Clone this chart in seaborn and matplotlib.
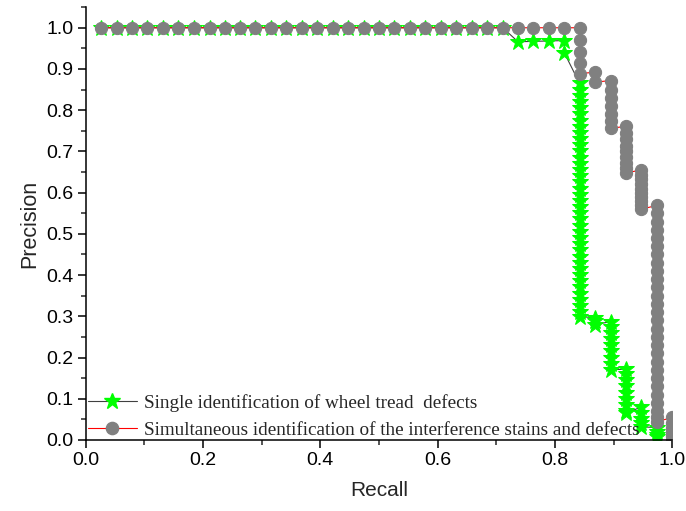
import numpy as np
import pandas as pd
import matplotlib
matplotlib.use('Agg')
import matplotlib.pyplot as plt
from matplotlib.lines import Line2D
import seaborn as sns

# Single identification of wheel tread defects (green stars)
single_recall = [0.026, 0.053, 0.079, 0.105, 0.132, 0.158, 0.184, 0.211, 0.237, 0.263,
                 0.289, 0.316, 0.342, 0.368, 0.395, 0.421, 0.447, 0.474, 0.500, 0.526,
                 0.553, 0.579, 0.605, 0.632, 0.658, 0.684, 0.711,
                 0.737, 0.763, 0.789, 0.816, 0.816] + [0.842] * 39 + [0.868] * 3 + \
                [0.895] * 9 + [0.921] * 9 + [0.947] * 5 + [0.974] * 4
single_prec = [1.0] * 27 + [0.966, 0.967, 0.968, 0.969, 0.939] + \
              [0.865, 0.85, 0.835, 0.82, 0.805, 0.79, 0.775, 0.76, 0.745, 0.73,
               0.715, 0.70, 0.685, 0.67, 0.655, 0.64, 0.625, 0.61, 0.595, 0.58,
               0.565, 0.55, 0.535, 0.52, 0.505, 0.49, 0.475, 0.46, 0.445, 0.43,
               0.415, 0.40, 0.385, 0.37, 0.355, 0.34, 0.325, 0.31, 0.299] + \
              [0.297, 0.288, 0.28] + \
              [0.287, 0.275, 0.26, 0.245, 0.23, 0.215, 0.20, 0.185, 0.17] + \
              [0.172, 0.16, 0.145, 0.13, 0.115, 0.10, 0.085, 0.07, 0.065] + \
              [0.08, 0.065, 0.05, 0.04, 0.032] + \
              [0.03, 0.02, 0.012, 0.008]

# Simultaneous identification of stains and defects (gray circles)
simul_recall = [0.026, 0.053, 0.079, 0.105, 0.132, 0.158, 0.184, 0.211, 0.237, 0.263,
                0.289, 0.316, 0.342, 0.368, 0.395, 0.421, 0.447, 0.474, 0.500, 0.526,
                0.553, 0.579, 0.605, 0.632, 0.658, 0.684, 0.711, 0.737, 0.763, 0.789,
                0.816] + [0.842] * 5 + [0.868] * 2 + [0.895] * 7 + [0.921] * 9 + \
               [0.947] * 10 + [0.974] * 28 + [1.0] * 6
simul_prec = [1.0] * 31 + [1.0, 0.970, 0.941, 0.914, 0.889] + [0.892, 0.868] + \
             [0.872, 0.85, 0.829, 0.81, 0.791, 0.773, 0.756] + \
             [0.761, 0.745, 0.729, 0.714, 0.70, 0.686, 0.673, 0.66, 0.648] + \
             [0.655, 0.643, 0.632, 0.621, 0.61, 0.60, 0.59, 0.58, 0.57, 0.56] + \
             [0.569, 0.55, 0.53, 0.51, 0.49, 0.47, 0.45, 0.43, 0.41, 0.39,
              0.37, 0.35, 0.33, 0.31, 0.29, 0.27, 0.25, 0.23, 0.21, 0.19,
              0.17, 0.15, 0.13, 0.11, 0.09, 0.07, 0.055, 0.044] + \
             [0.055, 0.04, 0.03, 0.02, 0.01, 0.0]

df_single = pd.DataFrame({'Recall': single_recall, 'Precision': single_prec})
df_simul = pd.DataFrame({'Recall': simul_recall, 'Precision': simul_prec})

sns.set_style('ticks')
plt.rcParams['font.family'] = ['Liberation Sans', 'DejaVu Sans']

fig = plt.figure(figsize=(6.86, 5.11), dpi=100)
ax = fig.add_axes([0.125, 0.139, 0.855, 0.847])

sns.lineplot(data=df_single, x='Recall', y='Precision', sort=False, estimator=None,
             color='#404040', linewidth=0.8, marker='*', markersize=12,
             markerfacecolor='#00ff00', markeredgecolor='#00ff00', ax=ax)
sns.lineplot(data=df_simul, x='Recall', y='Precision', sort=False, estimator=None,
             color='red', linewidth=0.8, marker='o', markersize=8.8,
             markerfacecolor='#808080', markeredgecolor='#808080', ax=ax)

ax.set_xlim(0, 1.0)
ax.set_ylim(0, 1.05)
ax.set_xticks([0.0, 0.2, 0.4, 0.6, 0.8, 1.0])
ax.set_xticks([0.1, 0.3, 0.5, 0.7, 0.9], minor=True)
ax.set_yticks(np.round(np.arange(0, 1.01, 0.1), 1))
ax.set_yticks([0.05, 0.15, 0.25, 0.35, 0.45, 0.55, 0.65, 0.75, 0.85, 0.95, 1.05], minor=True)
ax.set_xticklabels(['0.0', '0.2', '0.4', '0.6', '0.8', '1.0'])
ax.set_yticklabels(['%.1f' % v for v in np.arange(0, 1.01, 0.1)])
ax.tick_params(which='major', direction='out', length=6, width=1.1, labelsize=14,
               colors='black', pad=3)
ax.tick_params(which='minor', direction='out', length=3.5, width=1.1)
for s in ['left', 'bottom']:
    ax.spines[s].set_linewidth(1.1)
    ax.spines[s].set_color('black')
sns.despine(ax=ax)

ax.set_xlabel('Recall', fontsize=15, labelpad=8)
ax.set_ylabel('Precision', fontsize=15.5, labelpad=4)

handles = [
    Line2D([], [], color='#404040', linewidth=0.8, marker='*', markersize=12,
           markerfacecolor='#00ff00', markeredgecolor='#00ff00'),
    Line2D([], [], color='red', linewidth=0.8, marker='o', markersize=8.8,
           markerfacecolor='#808080', markeredgecolor='#808080'),
]
labels = ['Single identification of wheel tread  defects',
          'Simultaneous identification of the interference stains and defects']
ax.legend(handles, labels, loc='lower left', bbox_to_anchor=(-0.01, -0.015), frameon=False,
          prop={'family': 'Liberation Serif', 'size': 13.8}, handlelength=2.6,
          handletextpad=0.35, labelspacing=0.5, borderaxespad=0.0)

fig.savefig('out.png', dpi=100)
